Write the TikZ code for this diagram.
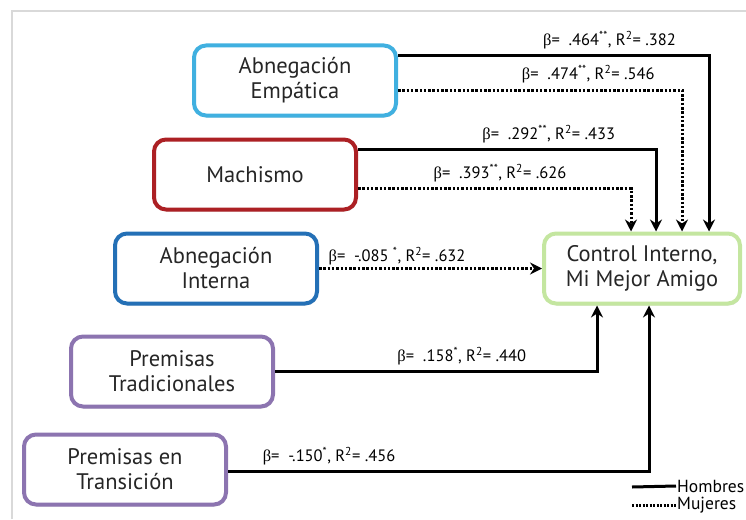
\documentclass[tikz,border=0pt]{standalone}
\usepackage{fontspec}
\setmainfont{PT Sans}
\newfontfamily\grk{Liberation Serif}
\usetikzlibrary{arrows.meta, positioning, shadows}
\definecolor{empcol}{RGB}{64,176,224}
\definecolor{machcol}{RGB}{172,32,36}
\definecolor{intcol}{RGB}{36,112,182}
\definecolor{premcol}{RGB}{140,116,176}
\definecolor{ctrlcol}{RGB}{196,230,160}
\tikzstyle{factor}=[draw, rounded corners=12pt, line width=4pt, fill=white, minimum width=202pt, minimum height=70pt, align=center, text=black!85, font=\fontsize{22.5}{25}\selectfont, drop shadow={opacity=.25, shadow xshift=1pt, shadow yshift=-2pt}]
\tikzstyle{hombres}=[line width=3pt, -{Stealth[length=12pt,width=12pt,inset=4pt]}]
\tikzstyle{mujeres}=[hombres, dash pattern=on 2.5pt off 1.8pt]
\tikzstyle{coef}=[font=\fontsize{16.5}{18}\selectfont, above=5pt, inner sep=0pt]
\tikzstyle{legtext}=[font=\fontsize{17.5}{19}\selectfont, anchor=west, inner sep=1pt]
\newcommand{\bet}{{\grk β}}

\begin{document}
\begin{tikzpicture}[x=1pt, y=-1pt]
  \useasboundingbox (0,0) rectangle (746,519);
  \draw[black!15, line width=1.5pt] (12,519) -- (12,11) -- (746,11);
  \node[factor, draw=empcol] (ae) at (295,80.5) {Abnegación\\Empática};
  \node[factor, draw=machcol, below=20pt of ae, xshift=-40pt] (mach) {Machismo};
  \node[factor, draw=intcol, below=20pt of mach, xshift=-39pt] (ai) {Abnegación\\Interna};
  \node[factor, draw=premcol, below=29pt of ai, xshift=-44pt] (pt) {Premisas\\Tradicionales};
  \node[factor, draw=premcol, below=24pt of pt, xshift=-47pt] (pet) {Premisas en\\Transición};
  \node[factor, draw=ctrlcol, minimum width=196pt, right=223pt of ai] (ctrl) {Control Interno,\\Mi Mejor Amigo};
  % hombres
  \draw[hombres] ([yshift=25pt]ae.east) -| ([xshift=67pt]ctrl.north)
    node[coef, pos=.34] {\bet=~ .464\textsuperscript{**}, R\textsuperscript{2}= .382};
  \draw[hombres] ([yshift=25pt]mach.east) -| ([xshift=14pt]ctrl.north)
    node[coef, pos=.32] {\bet=~ .292\textsuperscript{**}, R\textsuperscript{2}= .433};
  \draw[hombres] (pt.east) -| ([xshift=-45pt]ctrl.south)
    node[coef, pos=.29] {\bet=~ .158\textsuperscript{*}, R\textsuperscript{2}= .440};
  \draw[hombres] ([yshift=-2pt]pet.east) -| ([xshift=7pt]ctrl.south)
    node[coef, pos=.12] {\bet=~ -.150\textsuperscript{*}, R\textsuperscript{2}= .456};
  % mujeres
  \draw[mujeres] ([yshift=-9.5pt]ae.east) -| ([xshift=40pt]ctrl.north)
    node[coef, pos=.335] {\bet=~ .474\textsuperscript{**}, R\textsuperscript{2}= .546};
  \draw[mujeres] ([yshift=-14pt]mach.east) -| ([xshift=-11pt]ctrl.north)
    node[coef, pos=.26] {\bet=~ .393\textsuperscript{**}, R\textsuperscript{2}= .626};
  \draw[mujeres] (ai.east) -- (ctrl.west)
    node[coef, pos=.35, above=2pt] {\bet=~ -.085 \textsuperscript{*}, R\textsuperscript{2}= .632};
  % leyenda
  \node[legtext] (hom) at (676,486) {Hombres};
  \node[legtext] (muj) at (676,505) {Mujeres};
  \coordinate (h0) at (632,487);
  \coordinate (m0) at (632,505);
  \draw[line width=3pt] (h0) -- (hom.west);
  \draw[line width=3pt, dash pattern=on 2pt off 1.5pt] (m0) -- (muj.west);
\end{tikzpicture}
\end{document}
